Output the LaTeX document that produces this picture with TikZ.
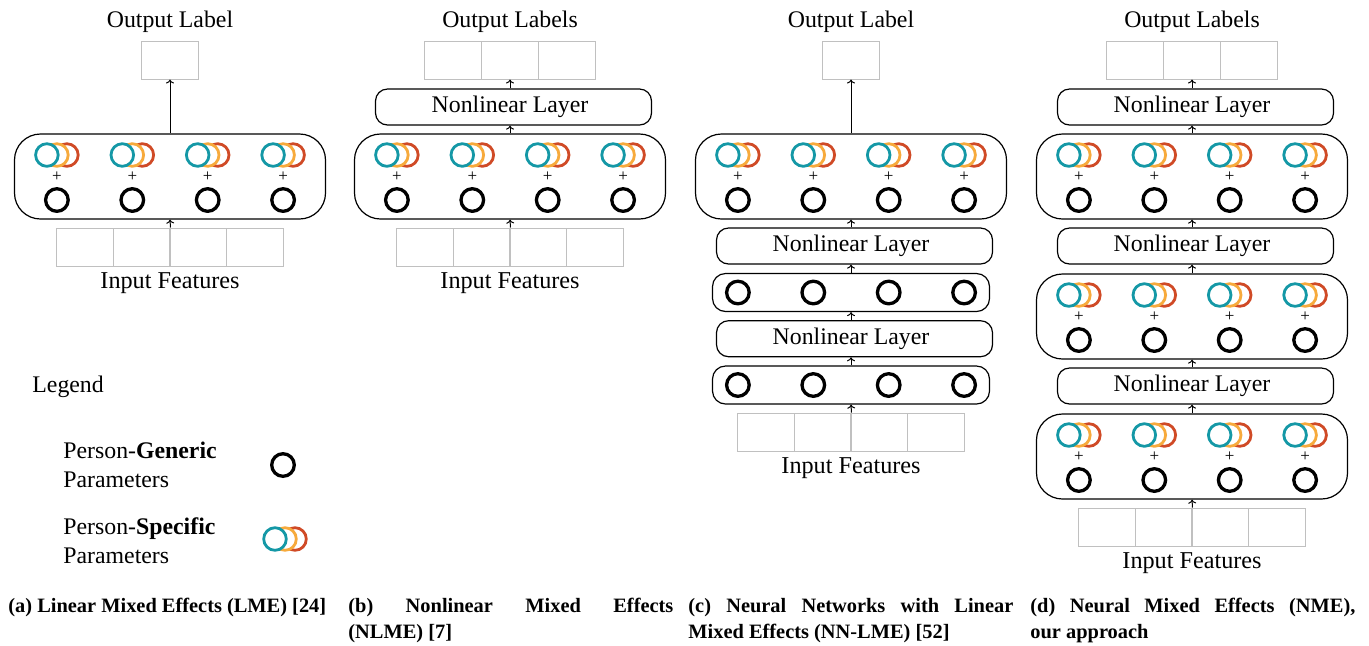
\documentclass[tikz,border=0pt]{standalone}
\usepackage{fontspec}
\setmainfont{Liberation Serif}
\usetikzlibrary{arrows.meta}
\definecolor{tealc}{RGB}{20,152,166}
\definecolor{orangec}{RGB}{247,170,60}
\definecolor{redc}{RGB}{208,74,38}
\definecolor{greyc}{RGB}{192,192,192}
\tikzset{
  lbl/.style={font=\fontsize{11.9}{14.5}\selectfont, inner sep=0pt},
  bigbox/.style={draw, line width=0.6pt, rounded corners=13pt, minimum width=155.5pt, minimum height=42.5pt, inner sep=0pt},
  nlbox/.style={draw, line width=0.6pt, rounded corners=6pt, minimum width=138pt, minimum height=18pt, inner sep=0pt, font=\fontsize{11.9}{14.5}\selectfont},
  rowbox/.style={draw, line width=0.6pt, rounded corners=6.5pt, minimum width=138.5pt, minimum height=19pt, inner sep=0pt},
  gbox/.style={draw=greyc, line width=0.5pt, minimum width=28.3pt, minimum height=19pt, inner sep=0pt},
  gencirc/.style={circle, draw=black, line width=1.65pt, fill=white, minimum size=11.3pt, inner sep=0pt},
  spccirc/.style={circle, draw=#1, line width=1.4pt, fill=white, minimum size=11.3pt, inner sep=0pt},
  plustext/.style={font=\fontsize{8.5}{9}\selectfont, inner sep=0pt},
  arr/.style={-{To[length=2pt,width=4pt]}, line width=0.5pt},
  captext/.style={font=\fontsize{10.2}{13}\selectfont\bfseries, text width=162.5pt, align=justify, anchor=base west, inner sep=0pt},
}
\newcommand\mixrow[3]{%
  \node[bigbox] (#1) at (#2,#3) {};
  \foreach \k in {1,2,3,4}{%
    \pgfmathsetmacro\xx{#2+(\k-2.5)*75.4}%
    \node[spccirc=redc] (#1r\k) at (\xx+10,#3-21.5) {};
    \node[spccirc=orangec] (#1o\k) at (\xx,#3-21.5) {};
    \node[spccirc=tealc] (#1t\k) at (\xx-10,#3-21.5) {};
    \node[plustext] (#1p\k) at (\xx,#3+0.5) {+};
    \node[gencirc] (#1g\k) at (\xx,#3+23.5) {};
  }}
\newcommand\plainrow[3]{%
  \node[rowbox] (#1) at (#2,#3) {};
  \foreach \k in {1,2,3,4}{%
    \pgfmathsetmacro\xx{#2+(\k-2.5)*75.4}%
    \node[gencirc] (#1g\k) at (\xx,#3) {};
  }}
\newcommand\inputrow[3]{%
  \foreach \k in {1,2,3,4}{%
    \pgfmathsetmacro\xx{#2+(\k-2.5)*56.65}%
    \node[gbox] (#1\k) at (\xx,#3) {};
  }
  \node[lbl, font=\fontsize{12.1}{14.5}\selectfont] (#1lbl) at (#2,#3+36) {Input Features};}
\newcommand\outone[2]{%
  \node[gbox, minimum width=28.5pt] (#1) at (#2,60) {};
  \node[lbl] (#1lbl) at (#2,21.5) {Output Label};}
\newcommand\outthree[2]{%
  \foreach \k in {1,2,3}{%
    \pgfmathsetmacro\xx{#2+(\k-2)*56.8}%
    \node[gbox, minimum width=28.4pt] (#1\k) at (\xx,60) {};
  }
  \node[lbl] (#1lbl) at (#2,21.5) {Output Labels};}
\newcommand\nltext{\hspace*{-3.5pt}Nonlinear Layer}
\begin{document}
\begin{tikzpicture}[x=0.5pt,y=-0.5pt]
\fill[white] (0,0) rectangle (1369,645);
\useasboundingbox (0,0) rectangle (1369,645);

% ---------- (a) ----------
\outone{aout}{170}
\mixrow{abig}{170}{176.5}
\inputrow{ain}{170}{247}
\draw[arr] (abig.north) -- (aout.south);
\draw[arr] (ain2.north east) -- (abig.south);

% ---------- (b) ----------
\outthree{bout}{510}
\node[nlbox] (bnl) at (513.5,107) {\nltext};
\mixrow{bbig}{510}{176.5}
\inputrow{bin}{510}{247}
\draw[arr] (bin2.north east) -- (bbig.south);
\draw[arr] (bbig.north) -- (bbig.north |- bnl.south);
\draw[arr] (bout2.south |- bnl.north) -- (bout2.south);

% ---------- (c) ----------
\outone{cout}{851}
\mixrow{cbig}{851}{176.5}
\node[nlbox] (cnl1) at (854.5,246) {\nltext};
\plainrow{crow1}{851}{292.5}
\node[nlbox] (cnl2) at (854.5,338.7) {\nltext};
\plainrow{crow2}{851}{385}
\inputrow{cin}{851}{432}
\draw[arr] (cin2.north east) -- (crow2.south);
\draw[arr] (crow2.north) -- (crow2.north |- cnl2.south);
\draw[arr] (crow1.south |- cnl2.north) -- (crow1.south);
\draw[arr] (crow1.north) -- (crow1.north |- cnl1.south);
\draw[arr] (cbig.south |- cnl1.north) -- (cbig.south);
\draw[arr] (cbig.north) -- (cout.south);

% ---------- (d) ----------
\outthree{dout}{1192}
\node[nlbox] (dnl1) at (1195.5,107) {\nltext};
\mixrow{dbigA}{1192}{176.5}
\node[nlbox] (dnl2) at (1195.5,246) {\nltext};
\mixrow{dbigB}{1192}{316.5}
\node[nlbox] (dnl3) at (1195.5,386) {\nltext};
\mixrow{dbigC}{1192}{456.5}
\inputrow{din}{1192}{527}
\draw[arr] (din2.north east) -- (dbigC.south);
\draw[arr] (dbigC.north) -- (dbigC.north |- dnl3.south);
\draw[arr] (dbigB.south |- dnl3.north) -- (dbigB.south);
\draw[arr] (dbigB.north) -- (dbigB.north |- dnl2.south);
\draw[arr] (dbigA.south |- dnl2.north) -- (dbigA.south);
\draw[arr] (dbigA.north) -- (dbigA.north |- dnl1.south);
\draw[arr] (dout2.south |- dnl1.north) -- (dout2.south);

% ---------- legend ----------
\node[lbl, anchor=west] (legend) at (32,387) {Legend};
\node[lbl, anchor=west, align=left] (lgen) at (63,465) {Person-\textbf{Generic}\\Parameters};
\node[gencirc] (lgenc) at (283,465) {};
\node[lbl, anchor=west, align=left] (lspc) at (63,541) {Person-\textbf{Specific}\\Parameters};
\node[spccirc=redc] (lspcr) at (295,539) {};
\node[spccirc=orangec] (lspco) at (285,539) {};
\node[spccirc=tealc] (lspct) at (275,539) {};

% ---------- captions ----------
\node[captext] (capa) at (8,612) {(a) Linear Mixed Effects (LME) [24]};
\node[captext] (capb) at (348,612) {(b) Nonlinear Mixed Effects\linebreak (NLME) [7]};
\node[captext] (capc) at (688,612) {(c) Neural Networks with Linear\linebreak Mixed Effects (NN-LME) [52]};
\node[captext] (capd) at (1030,612) {(d) Neural Mixed Effects (NME),\linebreak our approach};
\end{tikzpicture}
\end{document}
